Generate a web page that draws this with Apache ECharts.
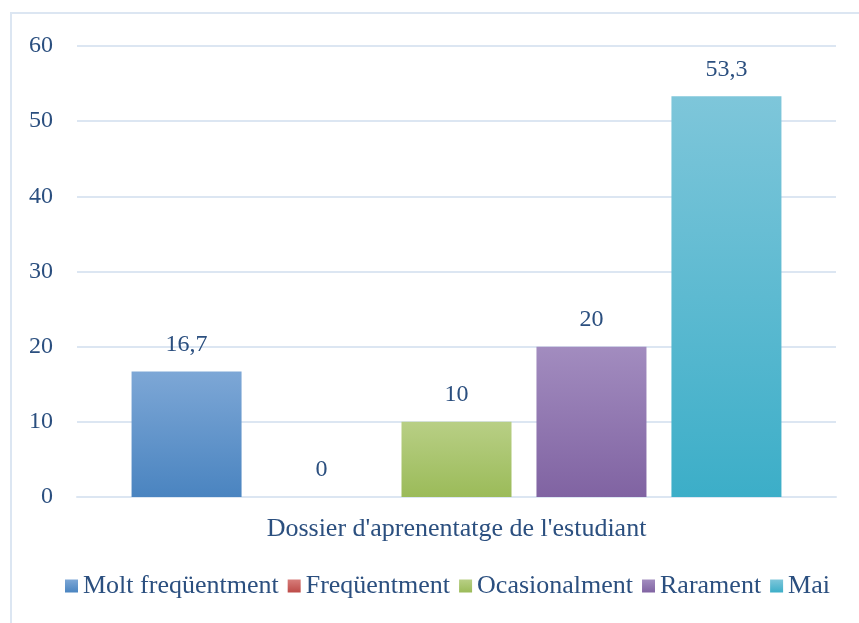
<!DOCTYPE html>
<html>
<head>
<meta charset="utf-8">
<script src="https://cdn.jsdelivr.net/npm/echarts@6/dist/echarts.min.js"></script>
<style>
  html, body { margin: 0; padding: 0; background: #fff; }
  #frame { position: absolute; left: 10px; top: 12px; width: 900px; height: 700px; border: 2px solid #dce6f2; box-sizing: border-box; }
  #main { position: absolute; left: 0; top: 0; width: 859px; height: 623px; }
</style>
</head>
<body>
<div id="frame"></div>
<div id="main"></div>
<script>
const categories = ["Dossier d'aprenentatge de l'estudiant"]
const seriesNames = ['Molt freqüentment', 'Freqüentment', 'Ocasionalment', 'Rarament', 'Mai']
const seriesValues = [16.7, 0, 10, 20, 53.3]
const yTicks = [0, 10, 20, 30, 40, 50, 60]
// top / bottom colours of each bar gradient
const topColors = ['#7da7d6', '#d77d7a', '#b8cf85', '#a28cbf', '#7ec6da']
const bottomColors = ['#4a84c0', '#bd4b48', '#9bbb59', '#8063a2', '#3caec8']

const textColor = '#2b4f7f'
const font = 'Liberation Serif'

let chartDom = document.getElementById('main')
let myChart = echarts.init(chartDom)
let option

function grad (i) {
  return new echarts.graphic.LinearGradient(0, 0, 0, 1, [
    { offset: 0, color: topColors[i] },
    { offset: 1, color: bottomColors[i] }
  ])
}

option = {
  animation: false,
  color: bottomColors,
  textStyle: { fontFamily: font, color: textColor },
  grid: {
    left: 77,
    right: 23,
    top: 46,
    bottom: 126
  },
  legend: {
    bottom: 19,
    left: 60,
    itemWidth: 13,
    itemHeight: 13,
    itemGap: 9,
    icon: 'rect',
    data: seriesNames.map((n, i) => ({ name: n, itemStyle: { color: grad(i) } })),
    textStyle: { fontFamily: font, fontSize: 26, color: textColor }
  },
  xAxis: {
    type: 'category',
    data: categories,
    axisLine: { lineStyle: { color: '#dce6f2', width: 2 } },
    axisTick: { show: false },
    axisLabel: { fontFamily: font, fontSize: 26, color: textColor, margin: 19 }
  },
  yAxis: {
    type: 'value',
    min: yTicks[0],
    max: yTicks[yTicks.length - 1],
    interval: 10,
    axisLine: { show: false },
    axisTick: { show: false },
    splitLine: { lineStyle: { color: '#dce6f2', width: 2 } },
    axisLabel: { fontFamily: font, fontSize: 24, color: textColor, margin: 24 }
  },
  series: seriesNames.map((name, i) => ({
    name: name,
    type: 'bar',
    data: [seriesValues[i]],
    barWidth: 110,
    barGap: '22.7%',
    barCategoryGap: '14.4%',
    itemStyle: { color: grad(i) },
    label: {
      show: true,
      position: 'top',
      distance: 15,
      fontFamily: font,
      fontSize: 24,
      color: textColor,
      formatter: p => String(p.value).replace('.', ',')
    }
  }))
}

option && myChart.setOption(option)
</script>
</body>
</html>
